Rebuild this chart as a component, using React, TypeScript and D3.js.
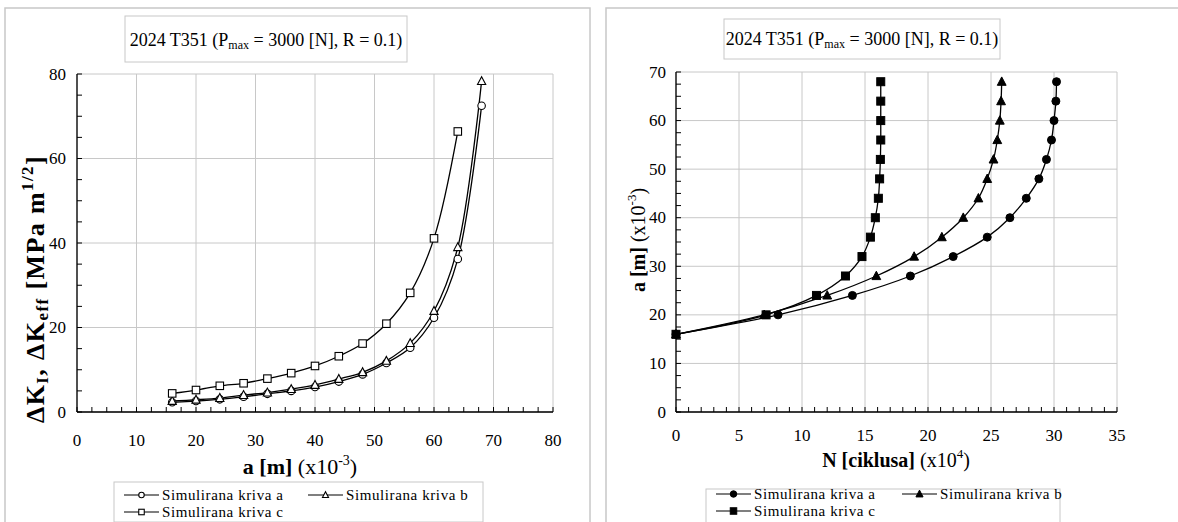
import React from 'react';
import * as d3 from 'd3';

// ---------- DATA ----------
const crackAB = [16, 20, 24, 28, 32, 36, 40, 44, 48, 52, 56, 60, 64, 68];
const crackC = [16, 20, 24, 28, 32, 36, 40, 44, 48, 52, 56, 60, 64];
const dKa = [2.3, 2.6, 3.0, 3.6, 4.3, 5.0, 5.9, 7.2, 8.9, 11.6, 15.2, 22.3, 36.2, 72.5];
const dKb = [2.6, 2.9, 3.3, 4.0, 4.6, 5.4, 6.4, 7.8, 9.4, 12.1, 16.3, 23.9, 39.0, 78.3];
const dKc = [4.4, 5.2, 6.2, 6.8, 7.9, 9.2, 10.9, 13.2, 16.2, 20.9, 28.2, 41.1, 66.4];

const crackN = [16, 20, 24, 28, 32, 36, 40, 44, 48, 52, 56, 60, 64, 68];
const cyclesA = [0, 8.1, 14.0, 18.6, 22.0, 24.7, 26.5, 27.8, 28.8, 29.4, 29.8, 30.0, 30.15, 30.2];
const cyclesB = [0, 7.0, 12.0, 15.9, 18.9, 21.1, 22.8, 24.0, 24.7, 25.2, 25.5, 25.7, 25.8, 25.85];
const cyclesC = [0, 7.15, 11.15, 13.45, 14.76, 15.43, 15.82, 16.06, 16.16, 16.22, 16.25, 16.25, 16.25, 16.25];

const leftXTicks = [0, 10, 20, 30, 40, 50, 60, 70, 80];
const leftYTicks = [0, 20, 40, 60, 80];
const rightXTicks = [0, 5, 10, 15, 20, 25, 30, 35];
const rightYTicks = [0, 10, 20, 30, 40, 50, 60, 70];
const seriesNames = ['Simulirana kriva a', 'Simulirana kriva b', 'Simulirana kriva c'];

// ---------- STYLE ----------
const FONT = "'Liberation Serif', 'Times New Roman', Tinos, 'DejaVu Serif', serif";
const GRID = '#c8c8c8';
const BORDER = '#c8c8c8';

type Shape = 'circle' | 'triangle' | 'square';

function Marker({ x, y, shape, filled, size }: { x: number; y: number; shape: Shape; filled: boolean; size: number }) {
  const fill = filled ? '#000' : '#fff';
  const sw = filled ? 1 : 1.1;
  if (shape === 'circle') return <circle cx={x} cy={y} r={size * 0.5} fill={fill} stroke="#000" strokeWidth={sw} />;
  if (shape === 'square')
    return <rect x={x - size / 2} y={y - size / 2} width={size} height={size} fill={fill} stroke="#000" strokeWidth={sw} />;
  const h = size * 1.0;
  const w = size * 1.1;
  const pts = `${x},${y - h * 0.6} ${x - w / 2},${y + h * 0.45} ${x + w / 2},${y + h * 0.45}`;
  return <polygon points={pts} fill={fill} stroke="#000" strokeWidth={sw} />;
}

function TitleBox({ x, y, w, h, cx, base }: { x: number; y: number; w: number; h: number; cx: number; base: number }) {
  return (
    <g>
      <rect x={x} y={y} width={w} height={h} fill="#fff" stroke={BORDER} strokeWidth={1} />
      <text x={cx} y={base} textAnchor="middle" fontSize={18}>
        2024 T351 (P<tspan fontSize={12} dy={3}>max</tspan>
        <tspan dy={-3}> = 3000 [N], R = 0.1)</tspan>
      </text>
    </g>
  );
}

function Legend({ x, y, w, h, col2, row1, row2, filled }: any) {
  const shapes: Shape[] = ['circle', 'triangle', 'square'];
  const pos = [
    { lx: x + 10, ty: row1 },
    { lx: col2, ty: row1 },
    { lx: x + 10, ty: row2 },
  ];
  return (
    <g>
      <rect x={x} y={y} width={w} height={h} fill="#fff" stroke={BORDER} strokeWidth={1} />
      {pos.map((p, i) => (
        <g key={i}>
          <line x1={p.lx} x2={p.lx + 35} y1={p.ty} y2={p.ty} stroke="#000" strokeWidth={1.2} />
          <Marker x={p.lx + 17.5} y={p.ty} shape={shapes[i]} filled={filled} size={filled ? 6.5 : 5.5} />
          <text x={p.lx + 38} y={p.ty} dy="0.33em" fontSize={15} letterSpacing={0.6}>
            {seriesNames[i]}
          </text>
        </g>
      ))}
    </g>
  );
}

export default function App() {
  // Left chart scales
  const xL = d3.scaleLinear().domain([0, 80]).range([77, 553]);
  const yL = d3.scaleLinear().domain([0, 80]).range([412, 74]);
  // Right chart scales
  const xR = d3.scaleLinear().domain([0, 35]).range([676, 1117]);
  const yR = d3.scaleLinear().domain([0, 70]).range([412, 72]);

  const curve = d3.curveCatmullRom.alpha(0.5);
  const lineL = d3
    .line<[number, number]>()
    .x((d) => xL(d[0]))
    .y((d) => yL(d[1]))
    .curve(curve);
  const lineR = d3
    .line<[number, number]>()
    .x((d) => xR(d[0]))
    .y((d) => yR(d[1]))
    .curve(curve);

  const leftSeries: { pts: [number, number][]; shape: Shape }[] = [
    { pts: crackAB.map((a, i) => [a, dKa[i]] as [number, number]), shape: 'circle' },
    { pts: crackAB.map((a, i) => [a, dKb[i]] as [number, number]), shape: 'triangle' },
    { pts: crackC.map((a, i) => [a, dKc[i]] as [number, number]), shape: 'square' },
  ];
  const rightSeries: { pts: [number, number][]; shape: Shape }[] = [
    { pts: crackN.map((a, i) => [cyclesA[i], a] as [number, number]), shape: 'circle' },
    { pts: crackN.map((a, i) => [cyclesB[i], a] as [number, number]), shape: 'triangle' },
    { pts: crackN.map((a, i) => [cyclesC[i], a] as [number, number]), shape: 'square' },
  ];

  const leftYMinor = d3.range(0, 80.01, 5);
  const leftXMinor = d3.range(0, 80.01, 2.5);
  const rightYMinor = d3.range(0, 70.01, 2.5);
  const rightXMinor = d3.range(0, 35.01, 1);

  return (
    <svg
      width={1178}
      height={522}
      style={{ position: 'absolute', left: 0, top: 0, background: '#fff', fontFamily: FONT }}
      fontFamily={FONT}
    >
      <rect x={0} y={0} width={1178} height={522} fill="#fff" />
      {/* panel borders */}
      <rect x={5} y={8} width={585} height={530} fill="#fff" stroke={BORDER} strokeWidth={1.5} />
      <rect x={606} y={8} width={600} height={530} fill="#fff" stroke={BORDER} strokeWidth={1.5} />

      {/* ---------------- LEFT CHART ---------------- */}
      <TitleBox x={125} y={16} w={282} h={46} cx={266} base={46} />
      <g>
        {leftXTicks.map((t) => (
          <line key={'lgx' + t} x1={xL(t)} x2={xL(t)} y1={yL(0)} y2={yL(80)} stroke={GRID} strokeWidth={1} />
        ))}
        {leftYTicks.map((t) => (
          <line key={'lgy' + t} x1={xL(0)} x2={xL(80)} y1={yL(t)} y2={yL(t)} stroke={GRID} strokeWidth={1} />
        ))}
        <line x1={xL(0)} x2={xL(0)} y1={yL(0)} y2={yL(80)} stroke="#000" strokeWidth={1.3} />
        <line x1={xL(0)} x2={xL(80)} y1={yL(0)} y2={yL(0)} stroke="#000" strokeWidth={1.3} />
        {leftYMinor.map((t) => (
          <line key={'lmy' + t} x1={xL(0)} x2={xL(0) + 5} y1={yL(t)} y2={yL(t)} stroke="#000" strokeWidth={1} />
        ))}
        {leftXMinor.map((t) => (
          <line key={'lmx' + t} x1={xL(t)} x2={xL(t)} y1={yL(0)} y2={yL(0) - 5} stroke="#000" strokeWidth={1} />
        ))}
        {leftYTicks.map((t) => (
          <text key={'lty' + t} x={66} y={yL(t)} dy="0.33em" textAnchor="end" fontSize={17}>
            {t}
          </text>
        ))}
        {leftXTicks.map((t) => (
          <text key={'ltx' + t} x={xL(t)} y={446} textAnchor="middle" fontSize={17}>
            {t}
          </text>
        ))}
        {leftSeries.map((s, i) => (
          <path key={'lp' + i} d={lineL(s.pts) || ''} fill="none" stroke="#000" strokeWidth={1.3} />
        ))}
        {leftSeries.map((s, i) =>
          s.pts.map((p, j) => <Marker key={'lm' + i + '-' + j} x={xL(p[0])} y={yL(p[1])} shape={s.shape} filled={false} size={7.5} />)
        )}
        {/* axis titles */}
        <text x={300} y={474} textAnchor="middle" fontSize={22}>
          <tspan fontWeight="bold">a [m]</tspan>
          <tspan> (x10</tspan>
          <tspan fontSize={14} dy={-9}>-3</tspan>
          <tspan dy={9}>)</tspan>
        </text>
        <text
          transform="translate(44,289) rotate(-90)"
          textAnchor="middle"
          fontSize={26}
          fontWeight="bold"
          letterSpacing={1.4}
        >
          ΔK<tspan fontSize={17} dy={4}>I</tspan>
          <tspan dy={-4}>, ΔK</tspan>
          <tspan fontSize={17} dy={4}>eff</tspan>
          <tspan dy={-4}> [MPa m</tspan>
          <tspan fontSize={17} dy={-11}>1/2</tspan>
          <tspan dy={11}>]</tspan>
        </text>
      </g>
      <Legend x={114} y={482} w={369} h={40} col2={308} row1={495} row2={512} filled={false} />

      {/* ---------------- RIGHT CHART ---------------- */}
      <TitleBox x={724} y={19} w={276} h={40} cx={862} base={45} />
      <g>
        {rightXTicks.map((t) => (
          <line key={'rgx' + t} x1={xR(t)} x2={xR(t)} y1={yR(0)} y2={yR(70)} stroke={GRID} strokeWidth={1} />
        ))}
        {rightYTicks.map((t) => (
          <line key={'rgy' + t} x1={xR(0)} x2={xR(35)} y1={yR(t)} y2={yR(t)} stroke={GRID} strokeWidth={1} />
        ))}
        <line x1={xR(0)} x2={xR(0)} y1={yR(0)} y2={yR(70)} stroke="#000" strokeWidth={1.3} />
        <line x1={xR(0)} x2={xR(35)} y1={yR(0)} y2={yR(0)} stroke="#000" strokeWidth={1.3} />
        {rightYMinor.map((t) => (
          <line key={'rmy' + t} x1={xR(0)} x2={xR(0) + 5} y1={yR(t)} y2={yR(t)} stroke="#000" strokeWidth={1} />
        ))}
        {rightXMinor.map((t) => (
          <line key={'rmx' + t} x1={xR(t)} x2={xR(t)} y1={yR(0)} y2={yR(0) - 5} stroke="#000" strokeWidth={1} />
        ))}
        {rightYTicks.map((t) => (
          <text key={'rty' + t} x={666} y={yR(t)} dy="0.33em" textAnchor="end" fontSize={17}>
            {t}
          </text>
        ))}
        {rightXTicks.map((t) => (
          <text key={'rtx' + t} x={xR(t)} y={441} textAnchor="middle" fontSize={17}>
            {t}
          </text>
        ))}
        {rightSeries.map((s, i) => (
          <path key={'rp' + i} d={lineR(s.pts) || ''} fill="none" stroke="#000" strokeWidth={1.3} />
        ))}
        {rightSeries.map((s, i) =>
          s.pts.map((p, j) => <Marker key={'rm' + i + '-' + j} x={xR(p[0])} y={yR(p[1])} shape={s.shape} filled={true} size={8} />)
        )}
        <text x={896} y={467} textAnchor="middle" fontSize={20}>
          <tspan fontWeight="bold">N [ciklusa]</tspan>
          <tspan> (x10</tspan>
          <tspan fontSize={13} dy={-9}>4</tspan>
          <tspan dy={9}>)</tspan>
        </text>
        <text transform="translate(645,240) rotate(-90)" textAnchor="middle" fontSize={20}>
          <tspan fontWeight="bold">a [m]</tspan>
          <tspan> (x10</tspan>
          <tspan fontSize={13} dy={-9}>-3</tspan>
          <tspan dy={9}>)</tspan>
        </text>
      </g>
      <Legend x={706} y={489} w={354} h={40} col2={902} row1={494} row2={511} filled={true} />
    </svg>
  );
}
